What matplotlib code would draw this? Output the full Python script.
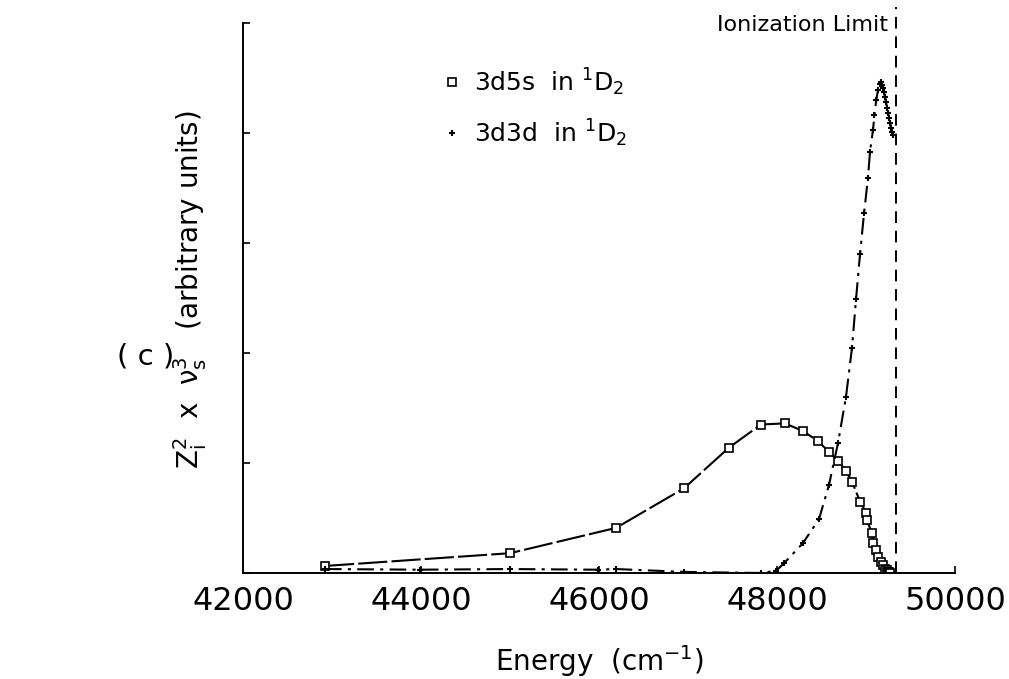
import matplotlib.pyplot as plt
from matplotlib.lines import Line2D

plt.rcParams['font.family'] = ['DejaVu Sans']
plt.rcParams['mathtext.default'] = 'regular'

# 3d5s in 1D2 (squares)
e_5s = [42921, 45000, 46191, 46955, 47461, 47820, 48090, 48292, 48461, 48584,
        48685, 48775, 48843, 48933, 49000, 49011, 49067, 49079, 49110, 49140,
        49170, 49195, 49215, 49235, 49250, 49262, 49272]
z_5s = [0.064, 0.18, 0.41, 0.77, 1.14, 1.35, 1.36, 1.29, 1.20, 1.10,
        1.02, 0.93, 0.83, 0.65, 0.55, 0.48, 0.36, 0.27, 0.21, 0.15,
        0.10, 0.07, 0.04, 0.025, 0.012, 0.005, 0.0]

# 3d3d in 1D2 (crosses)
e_3d = [42921, 43990, 45000, 45990, 46191, 46955, 47820, 47990, 48080, 48290,
        48472, 48584, 48685, 48775, 48843, 48888, 48933, 48978, 49022, 49045,
        49079, 49095, 49115, 49135, 49155, 49168, 49180, 49191, 49202, 49213,
        49225, 49236, 49247, 49258, 49270, 49281, 49292, 49303]
z_3d = [0.036, 0.03, 0.036, 0.03, 0.036, 0.01, 0.0, 0.02, 0.09, 0.27,
        0.49, 0.80, 1.18, 1.60, 2.05, 2.49, 2.90, 3.27, 3.59, 3.83,
        4.03, 4.16, 4.30, 4.39, 4.45, 4.46, 4.44, 4.41, 4.37, 4.33,
        4.28, 4.23, 4.18, 4.14, 4.09, 4.05, 4.01, 3.98]

ion_limit = 49335
xticks = [42000, 44000, 46000, 48000, 50000]
yticks = [0, 1, 2, 3, 4, 5]

fig = plt.figure(figsize=(10.09, 6.79), dpi=100)
ax = fig.add_axes([243/1009, 1 - 573/679, 712/1009, 550/679])

ax.plot(e_5s, z_5s, color='black', lw=1.5, dashes=(14, 2),
        marker='s', ms=6, mfc='white', mec='black', mew=1.2)
ax.plot(e_3d, z_3d, color='black', lw=1.5, dashes=(8, 3, 1.5, 3),
        marker='+', ms=5, mew=1.5)

ax.axvline(ion_limit, ymin=0, ymax=1.03, color='black', lw=1.4,
           dashes=(6, 4), clip_on=False)
ax.text(49250, 4.98, 'Ionization Limit', ha='right', va='center', fontsize=16)

ax.set_xlim(42000, 50000)
ax.set_ylim(0, 5)
ax.set_xticks(xticks)
ax.set_xticklabels([str(v) for v in xticks], fontsize=23)
ax.set_yticks(yticks)
ax.set_yticklabels([])
ax.tick_params(direction='in', length=5, width=1.2)
ax.tick_params(axis='x', pad=9)
for s in ['top', 'right']:
    ax.spines[s].set_visible(False)
for s in ['left', 'bottom']:
    ax.spines[s].set_linewidth(1.4)

ax.set_xlabel('Energy  (cm$^{-1}$)', fontsize=20)
ax.xaxis.set_label_coords(0.5, -0.128)
ax.set_ylabel(r'Z$_i^2$  x  $\nu_s^3$   (arbitrary units)', fontsize=20)
ax.yaxis.set_label_coords(-0.048, 0.515)

handles = [Line2D([], [], ls='none', marker='s', ms=6, mfc='white', mec='black', mew=1.2),
           Line2D([], [], ls='none', marker='+', ms=5, mew=1.5, color='black')]
ax.legend(handles, ['3d5s  in $^{1}$D$_{2}$', '3d3d  in $^{1}$D$_{2}$'],
          loc='upper left', bbox_to_anchor=(0.245, 0.962), frameon=False,
          fontsize=18, handlelength=1.0, handletextpad=0.35, labelspacing=0.78)

fig.text(146/1009, 1 - 356/679, '( c )', ha='center', va='center', fontsize=21)

fig.savefig('out.png', dpi=100)
